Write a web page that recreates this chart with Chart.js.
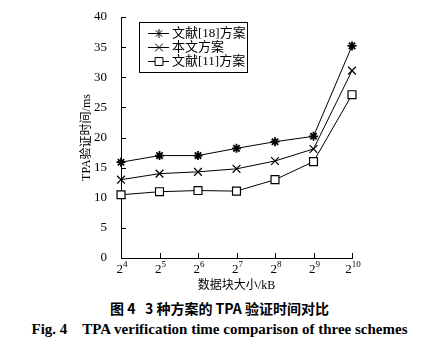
<!DOCTYPE html>
<html>
<head>
<meta charset="utf-8">
<script src="https://cdn.jsdelivr.net/npm/chart.js@4.4.0/dist/chart.umd.min.js"></script>
<style>
    body { margin: 0; background: #fff; }
    #wrap { position: relative; width: 435px; height: 295px; }
    .cap { position: absolute; left: 0; width: 435px; text-align: center; font-weight: bold; color: #000; }
</style>
</head>
<body>
<div id="wrap"><canvas id="tpaChart" width="435" height="295"></canvas></div>
<div class="cap" style="top:298px;left:2px;font-family:'Noto Sans CJK SC','Liberation Serif',serif;font-size:14px;">图 4&nbsp;&nbsp;&nbsp;3 种方案的 TPA 验证时间对比</div>
<div class="cap" style="top:321px;left:2px;font-family:'Liberation Serif',serif;font-size:15px;">Fig. 4&nbsp;&nbsp;&nbsp;&nbsp;TPA verification time comparison of three schemes</div>
<script>
// block size = 2^exp kB
const blockBase = "2";
const blockExponents = ["4", "5", "6", "7", "8", "9", "10"];
const ref18Times = [15.9, 17.0, 17.0, 18.2, 19.3, 20.2, 35.2];
const oursTimes = [13.0, 14.0, 14.3, 14.8, 16.1, 18.1, 31.1];
const ref11Times = [10.5, 11.0, 11.2, 11.1, 13.0, 16.0, 27.1];
const seriesNames = ["文献[18]方案", "本文方案", "文献[11]方案"];
const yTicks = [0, 5, 10, 15, 20, 25, 30, 35, 40];

const serif = "'Liberation Serif', 'Noto Sans CJK SC', serif";

function series(label, data, style, radius, width) {
    return {
        label: label,
        data: data,
        borderColor: "#000",
        borderWidth: 1,
        pointStyle: style,
        pointRadius: radius,
        pointBorderWidth: width,
        pointBorderColor: "#000",
        pointBackgroundColor: "#fff",
        tension: 0,
        fill: false,
    };
}

// inward tick marks + 2^n labels on the x axis
const axisExtras = {
    id: "axisExtras",
    afterDraw(chart) {
        const ctx = chart.ctx;
        const x = chart.scales.x, y = chart.scales.y;
        ctx.save();
        ctx.strokeStyle = "#000";
        ctx.lineWidth = 1;
        ctx.beginPath();
        blockExponents.forEach((_, i) => {
            const px = Math.round(x.getPixelForValue(i)) + 0.5;
            ctx.moveTo(px, y.bottom);
            ctx.lineTo(px, y.bottom - 5);
        });
        yTicks.forEach(v => {
            const py = Math.round(y.getPixelForValue(v)) + 0.5;
            ctx.moveTo(x.left, py);
            ctx.lineTo(x.left + 5, py);
        });
        ctx.stroke();

        ctx.fillStyle = "#000";
        ctx.textBaseline = "alphabetic";
        blockExponents.forEach((e, i) => {
            const px = x.getPixelForValue(i);
            ctx.font = "13px " + serif;
            const bw = ctx.measureText(blockBase).width;
            ctx.font = "9px " + serif;
            const ew = ctx.measureText(e).width;
            const sx = px - (bw + ew) / 2 + 1;
            ctx.font = "13px " + serif;
            ctx.fillText(blockBase, sx, y.bottom + 15);
            ctx.font = "9px " + serif;
            ctx.fillText(e, sx + bw, y.bottom + 9);
        });
        ctx.restore();
    }
};

// boxed legend inside the plot
const boxLegend = {
    id: "boxLegend",
    afterDraw(chart) {
        const ctx = chart.ctx;
        const bx = 139, by = 22, bw = 108, bh = 50;
        ctx.save();
        ctx.fillStyle = "#fff";
        ctx.fillRect(bx, by, bw, bh);
        ctx.strokeStyle = "#000";
        ctx.lineWidth = 1;
        ctx.strokeRect(bx + 0.5, by + 0.5, bw, bh);
        ctx.font = "13px " + serif;
        ctx.textBaseline = "middle";
        chart.data.datasets.forEach((ds, i) => {
            const ly = by + 11 + i * 14;
            ctx.strokeStyle = "#000";
            ctx.lineWidth = 1;
            ctx.beginPath();
            ctx.moveTo(bx + 9, ly + 0.5);
            ctx.lineTo(bx + 30, ly + 0.5);
            ctx.stroke();
            ctx.fillStyle = "#fff";
            Chart.helpers.drawPoint(ctx, {
                pointStyle: ds.pointStyle,
                radius: ds.pointRadius,
                borderWidth: ds.pointBorderWidth,
            }, bx + 20, ly + 0.5);
            ctx.fillStyle = "#000";
            ctx.fillText(ds.label, bx + 33, ly + 1);
        });
        ctx.restore();
    }
};

new Chart(document.getElementById("tpaChart"), {
    type: "line",
    data: {
        labels: blockExponents.map(e => blockBase + "^" + e),
        datasets: [
            series(seriesNames[0], ref18Times, "star", 4.5, 1.8),
            series(seriesNames[1], oursTimes, "crossRot", 5.5, 1.2),
            series(seriesNames[2], ref11Times, "rect", 5.6, 1.2),
        ],
    },
    options: {
        responsive: false,
        animation: false,
        layout: { padding: { left: 75, right: 83, top: 17, bottom: 0 } },
        plugins: {
            legend: { display: false },
            tooltip: { enabled: false },
        },
        scales: {
            x: {
                type: "category",
                offset: false,
                grid: { display: false },
                border: { display: true, color: "#000", width: 1 },
                ticks: { display: false },
                title: {
                    display: true,
                    text: "数据块大小/kB",
                    color: "#000",
                    font: { family: serif, size: 12 },
                    padding: { top: 0, bottom: 2 },
                },
                afterFit(scale) { scale.height = 37; },
            },
            y: {
                min: 0,
                max: 40,
                grid: { display: false },
                border: { display: true, color: "#000", width: 1 },
                ticks: { stepSize: 5, color: "#000", padding: 6, font: { family: serif, size: 13 } },
                title: {
                    display: true,
                    text: "TPA验证时间/ms",
                    color: "#000",
                    font: { family: serif, size: 12 },
                    padding: { top: 5, bottom: 0 },
                },
                afterFit(scale) { scale.width = 46; },
            },
        },
    },
    plugins: [axisExtras, boxLegend],
});
</script>
</body>
</html>
